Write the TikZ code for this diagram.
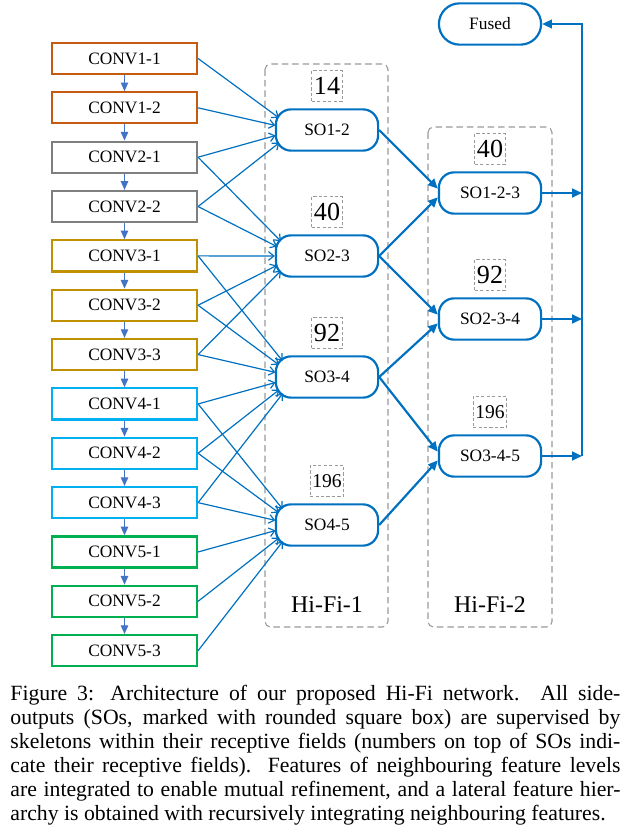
\documentclass[tikz,border=0pt]{standalone}
\usepackage{fontspec}
\setmainfont{Liberation Serif}
\usepackage{xcolor}
\usepackage{tikz}
\usetikzlibrary{arrows.meta, positioning}
\definecolor{ConvOne}{HTML}{C55A11}
\definecolor{ConvTwo}{HTML}{7F7F7F}
\definecolor{ConvThree}{HTML}{BF9000}
\definecolor{ConvFour}{HTML}{00B0F0}
\definecolor{ConvFive}{HTML}{00B050}
\definecolor{SoBlue}{HTML}{0070C0}
\definecolor{ChainBlue}{HTML}{4472C4}
\definecolor{GroupGray}{HTML}{9A9A9A}
\tikzset{
  conv node/.style={rectangle, draw, line width=1pt, minimum width=66.7pt,
                    minimum height=14.3pt, inner sep=0pt, font=\fontsize{8}{9}\selectfont},
  so node/.style={rectangle, rounded corners=7pt, draw=SoBlue, line width=1pt,
                  minimum width=47pt, minimum height=19pt, inner sep=0pt,
                  font=\fontsize{8}{9}\selectfont},
  rf node/.style={draw=GroupGray, dash pattern=on 1.5pt off 1pt, line width=0.4pt,
                  minimum height=14.2pt, inner xsep=1pt, inner ysep=0pt,
                  font=\fontsize{12}{14}\selectfont},
  group box/.style={draw=GroupGray, dash pattern=on 3pt off 1.8pt, line width=0.5pt,
                    rounded corners=2.5pt},
  group label/.style={font=\fontsize{11}{13}\selectfont},
  chain edge/.style={draw=ChainBlue, line width=0.6pt, -{Triangle[length=4pt, width=3.4pt]}},
  side edge/.style={draw=SoBlue, line width=0.55pt,
                    -{Straight Barb[length=2.5pt, width=4pt]}, shorten >=9.5pt},
  level edge/.style={draw=SoBlue, line width=1pt, -{Triangle[length=4.5pt, width=4pt]}},
}

\begin{document}
\begin{tikzpicture}[x=0.46pt, y=-0.46pt, node distance=7.4pt]
  \useasboundingbox (0,0) rectangle (629,835);
  % backbone
  \node[conv node, draw=ConvOne] (conv11) at (124.5,58.5) {CONV1-1};
  \node[conv node, draw=ConvOne, below=of conv11] (conv12) {CONV1-2};
  \node[conv node, draw=ConvTwo, below=of conv12] (conv21) {CONV2-1};
  \node[conv node, draw=ConvTwo, below=of conv21] (conv22) {CONV2-2};
  \node[conv node, draw=ConvThree, below=of conv22] (conv31) {CONV3-1};
  \node[conv node, draw=ConvThree, below=of conv31] (conv32) {CONV3-2};
  \node[conv node, draw=ConvThree, below=of conv32] (conv33) {CONV3-3};
  \node[conv node, draw=ConvFour, below=of conv33] (conv41) {CONV4-1};
  \node[conv node, draw=ConvFour, below=of conv41] (conv42) {CONV4-2};
  \node[conv node, draw=ConvFour, below=of conv42] (conv43) {CONV4-3};
  \node[conv node, draw=ConvFive, below=of conv43] (conv51) {CONV5-1};
  \node[conv node, draw=ConvFive, below=of conv51] (conv52) {CONV5-2};
  \node[conv node, draw=ConvFive, below=of conv52] (conv53) {CONV5-3};
  \foreach \a/\b in {conv11/conv12, conv12/conv21, conv21/conv22, conv22/conv31,
                     conv31/conv32, conv32/conv33, conv33/conv41, conv41/conv42,
                     conv42/conv43, conv43/conv51, conv51/conv52, conv52/conv53}
    \draw[chain edge] (\a) -- (\b);

  % Hi-Fi groups
  \draw[group box] (265,64) rectangle (388,627);
  \draw[group box] (428,127) rectangle (552,627);
  \node[group label] (hifi1) at (327,605) {Hi-Fi-1};
  \node[group label] (hifi2) at (490,605) {Hi-Fi-2};

  % side outputs
  \node[so node] (so12) at (327,130) {SO1-2};
  \node[so node] (so23) at (327,256) {SO2-3};
  \node[so node] (so34) at (327,377) {SO3-4};
  \node[so node] (so45) at (327,525) {SO4-5};
  \node[so node] (so123) at (490,193) {SO1-2-3};
  \node[so node] (so234) at (490,319) {SO2-3-4};
  \node[so node] (so345) at (490,456) {SO3-4-5};
  \node[so node, rounded corners=9.5pt] (fused) at (490,24) {Fused};

  \node[rf node, above=3pt of so12] (rf12) {14};
  \node[rf node, above=3pt of so23] (rf23) {40};
  \node[rf node, above=3pt of so34] (rf34) {92};
  \node[rf node, above=3pt of so45, font=\fontsize{9}{11}\selectfont] (rf45) {196};
  \node[rf node, above=3pt of so123] (rf123) {40};
  \node[rf node, above=3pt of so234] (rf234) {92};
  \node[rf node, above=3pt of so345, font=\fontsize{9}{11}\selectfont] (rf345) {196};

  % conv -> Hi-Fi-1
  \foreach \n in {so12, so23, so34, so45}
    \coordinate (\n c) at ([xshift=9.5pt]\n.west);
  \foreach \a/\b in {conv11/so12, conv12/so12, conv21/so12, conv22/so12,
                     conv21/so23, conv22/so23, conv31/so23, conv32/so23, conv33/so23,
                     conv31/so34, conv32/so34, conv33/so34, conv41/so34, conv42/so34, conv43/so34,
                     conv41/so45, conv42/so45, conv43/so45, conv51/so45, conv52/so45, conv53/so45}
    \draw[side edge] (\a.east) -- (\b c);

  % Hi-Fi-1 -> Hi-Fi-2
  \draw[level edge] (so12.east) -- ([yshift=2pt]so123.west);
  \draw[level edge] (so23.east) -- ([yshift=-2pt]so123.west);
  \draw[level edge] (so23.east) -- ([yshift=2pt]so234.west);
  \draw[level edge] (so34.east) -- ([yshift=-2pt]so234.west);
  \draw[level edge] (so34.east) -- ([yshift=2pt]so345.west);
  \draw[level edge] (so45.east) -- ([yshift=-2pt]so345.west);

  % fusion
  \coordinate (bus top) at (582,24);
  \coordinate (bus end) at (so345.east -| bus top);
  \foreach \n in {so123, so234, so345}
    \draw[level edge] (\n.east) -- (\n.east -| bus top);
  \draw[level edge] (bus end) -- (bus top) -- (fused.east);

  % caption
  \node[anchor=north west, inner sep=0pt, text width=280.6pt, align=justify,
        font=\fontsize{10}{11}\selectfont] (caption) at (10,685)
    {\parfillskip=0pt Figure 3: Architecture of our proposed Hi-Fi network. All side-\linebreak
     outputs (SOs, marked with rounded square box) are supervised by\linebreak
     skeletons within their receptive fields (numbers on top of SOs indi-\linebreak
     cate their receptive fields). Features of neighbouring feature levels\linebreak
     are integrated to enable mutual refinement, and a lateral feature hier-\linebreak
     archy is obtained with recursively integrating neighbouring features.};
\end{tikzpicture}
\end{document}
